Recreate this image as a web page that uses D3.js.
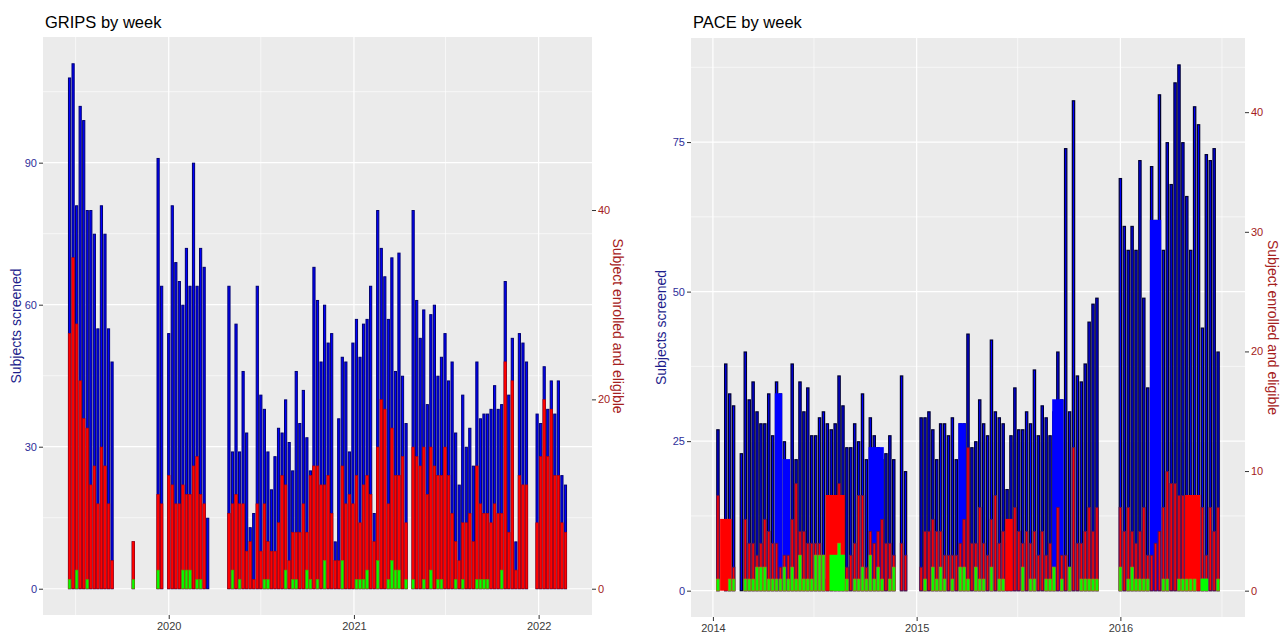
<!DOCTYPE html>
<html>
<head>
<meta charset="utf-8">
<script src="https://cdn.jsdelivr.net/npm/d3@7"></script>
<style>
  body { margin: 0; background: #fff; }
  svg { display: block; font-family: "Liberation Sans", Arial, sans-serif; }
</style>
</head>
<body>
<svg id="chart" width="1282" height="636"></svg>
<script>
// weekly counts, null = no record that week
// enrolled / eligible are on the right hand axis (half the left one)

var gripsStart = "2019-06-19";
var gripsScreened = [
  108,111,81,102,99,80,80,75,55,81,75,55,48,
  null,null,null,null,null,
  10,
  null,null,null,null,null,null,
  91,64,null,54,81,69,65,60,72,64,90,64,72,68,15,
  null,null,null,null,null,
  64,29,56,29,46,33,13,16,64,41,38,29,21,28,34,33,40,31,25,46,35,42,32,25,68,
  61,48,60,52,
  54,10,36,49,48,29,52,57,49,56,57,64,16,80,72,66,57,70,46,71,45,35,null,80,61,53,59,39,58,60,45,49,54,44,48,33,22,41,30,
  34,26,48,36,37,37,38,43,38,39,65,41,53,10,54,52,48,null,null,37,35,47,38,44,37,44,24,22
];
var gripsEnrolled = [
  27,35,28,22,18,17,11,13,9,15,13,9,3,
  null,null,null,null,null,
  5,
  null,null,null,null,null,null,
  10,9,null,12,11,9,9,11,10,10,13,14,10,9,0,
  null,null,null,null,null,
  8,9,10,9,9,4,5,1,9,4,9,5,4,4,7,12,11,3,6,6,6,9,6,12,13,
  13,11,11,12,
  8,3,3,13,9,10,9,12,7,11,12,10,5,15,20,19,9,17,12,12,14,7,null,15,14,13,15,10,15,13,12,12,15,12,8,5,3,7,7,
  8,5,13,9,8,8,7,9,8,8,24,6,22,2,12,11,11,null,null,7,14,20,14,19,12,12,7,6
];
var gripsEligible = [
  1,0,2,0,0,1,0,0,0,0,0,0,0,
  null,null,null,null,null,
  1,
  null,null,null,null,null,null,
  2,0,null,0,0,0,0,2,2,2,0,1,1,0,0,
  null,null,null,null,null,
  0,2,0,1,0,0,0,0,0,0,1,1,0,0,0,0,2,0,1,1,0,0,2,1,0,
  1,0,3,0,
  0,0,0,3,0,0,0,1,1,1,2,0,0,3,0,0,1,3,2,2,0,1,null,1,0,0,1,0,2,0,1,1,0,0,0,1,0,1,0,
  0,0,1,1,1,1,0,0,0,2,0,0,0,0,0,0,0,null,null,0,0,0,0,0,0,0,0,0
];

var paceStart = "2014-01-10";
var paceScreened = [
  27,null,38,33,31,null,23,40,32,35,
  30,28,28,33,26,35,33,25,20,38,
  22,35,30,34,26,26,29,30,28,27,
  28,36,31,24,24,28,25,33,22,29,
  26,24,22,23,26,22,null,36,20,null,
  null,null,29,29,30,27,22,28,28,26,
  29,22,28,28,43,24,25,32,28,26,
  42,30,29,28,17,26,34,27,27,30,
  28,37,26,31,29,26,30,40,32,74,
  30,82,36,35,38,45,48,49,null,null,
  null,null,null,69,61,57,61,57,72,49,
  34,71,62,83,57,75,68,85,88,75,
  66,57,81,78,44,73,72,74,40
];
var paceEnrolled = [
  8,null,4,6,2,null,0,6,4,4,
  3,4,6,5,4,4,2,3,3,6,
  9,5,5,4,4,4,4,3,1,3,
  8,9,8,2,3,4,8,8,2,5,
  4,5,6,4,4,3,null,4,3,null,
  null,null,2,5,5,6,5,5,3,3,
  3,3,4,6,12,4,4,7,4,3,
  6,8,4,5,4,6,7,5,4,5,
  4,5,3,5,3,4,2,7,3,3,
  2,12,4,4,5,7,5,7,null,null,
  null,null,null,7,5,7,5,4,5,7,
  3,3,4,5,7,10,9,9,8,8,
  5,8,8,7,7,3,7,5,7
];
var paceEligible = [
  1,null,0,1,1,null,0,1,1,1,
  2,2,2,1,1,1,1,2,1,2,
  1,3,1,1,1,3,3,3,0,0,
  1,4,3,1,0,1,1,2,1,3,
  1,2,1,0,1,2,null,0,0,null,
  null,null,0,1,0,2,1,2,1,0,
  1,0,2,2,1,0,2,1,1,0,
  2,0,1,1,0,0,0,0,2,0,
  1,1,0,0,1,1,2,0,1,0,
  2,0,0,1,1,1,1,1,null,null,
  null,null,null,2,0,1,2,1,1,1,
  1,0,0,0,1,1,0,0,1,1,
  1,1,1,0,1,1,0,0,1
];
// multi-week records in PACE: [first week, last week, value]
var paceScreenedWide = [[15,16,33],[17,18,22],[39,42,24],[62,63,28],[86,88,32],[111,113,62]];
var paceEnrolledWide = [[1,3,6],[28,32,8],[74,75,6],[120,123,8]];
var paceEligibleWide = [[29,32,3],[124,125,1]];

var gripsTicksLeft = [0, 30, 60, 90];
var gripsTicksRight = [0, 20, 40];
var gripsYears = ["2020", "2021", "2022"];
var paceTicksLeft = [0, 25, 50, 75];
var paceTicksRight = [0, 10, 20, 30, 40];
var paceYears = ["2014", "2015", "2016"];

var svg = d3.select("#chart");
var parseDay = d3.timeParse("%Y-%m-%d");
var secFactor = 2; // right axis = left axis / 2

function drawPanel(p) {
  var start = parseDay(p.start);
  var weekDate = function(i) { return d3.timeDay.offset(start, 7 * i); };
  var halfW = 3.15 * 864e5; // bar is 0.9 of a week
  var n = p.screened.length;
  var lo = +weekDate(0) - halfW, hi = +weekDate(n - 1) + halfW;
  var pad = (hi - lo) * 0.05;
  var x = d3.scaleTime()
    .domain([new Date(lo - pad), new Date(hi + pad)])
    .range([p.left, p.right]);

  var top = d3.max([d3.max(p.screened), secFactor * d3.max(p.enrolled), secFactor * d3.max(p.eligible)]);
  var y = d3.scaleLinear()
    .domain([-top * 0.05, top * 1.05])
    .range([p.bottom, p.top]);

  var g = svg.append("g");

  g.append("rect")
    .attr("x", p.left).attr("y", p.top)
    .attr("width", p.right - p.left).attr("height", p.bottom - p.top)
    .attr("fill", "#ebebeb");

  // grid
  var step = p.ticksLeft[1] - p.ticksLeft[0];
  var minorY = [p.ticksLeft[0] - step / 2].concat(p.ticksLeft.map(function(v) { return v + step / 2; }))
    .filter(function(v) { return v > y.domain()[0] && v < y.domain()[1]; });
  var years = p.years.map(function(s) { return parseDay(s + "-01-01"); });
  var minorX = [d3.timeMonth.offset(years[0], -6)].concat(years.map(function(d) { return d3.timeMonth.offset(d, 6); }))
    .filter(function(d) { return x(d) > p.left && x(d) < p.right; });

  var grid = g.append("g").attr("stroke", "#fff");
  grid.selectAll(".ymin").data(minorY).enter().append("line")
    .attr("x1", p.left).attr("x2", p.right)
    .attr("y1", function(d) { return y(d); }).attr("y2", function(d) { return y(d); })
    .attr("stroke-width", 0.6);
  grid.selectAll(".xmin").data(minorX).enter().append("line")
    .attr("y1", p.top).attr("y2", p.bottom)
    .attr("x1", function(d) { return x(d); }).attr("x2", function(d) { return x(d); })
    .attr("stroke-width", 0.6);
  grid.selectAll(".ymaj").data(p.ticksLeft).enter().append("line")
    .attr("x1", p.left).attr("x2", p.right)
    .attr("y1", function(d) { return y(d); }).attr("y2", function(d) { return y(d); })
    .attr("stroke-width", 1.2);
  grid.selectAll(".xmaj").data(years).enter().append("line")
    .attr("y1", p.top).attr("y2", p.bottom)
    .attr("x1", function(d) { return x(d); }).attr("x2", function(d) { return x(d); })
    .attr("stroke-width", 1.2);

  var bars = g.append("g");

  function series(values, factor, fill, stroke, sw) {
    var rows = values.map(function(v, i) { return { i: i, v: v }; })
      .filter(function(d) { return d.v !== null && d.v > 0; });
    bars.append("g").selectAll("rect").data(rows).enter().append("rect")
      .attr("x", function(d) { return x(+weekDate(d.i) - halfW) + sw / 2; })
      .attr("width", function(d) { return Math.max(0.3, x(+weekDate(d.i) + halfW) - x(+weekDate(d.i) - halfW) - sw); })
      .attr("y", function(d) { return y(d.v * factor) + sw / 2; })
      .attr("height", function(d) { return Math.max(0.3, y(0) - y(d.v * factor) - sw / 2); })
      .attr("fill", fill)
      .attr("stroke", stroke)
      .attr("stroke-width", sw);
  }

  function wide(list, factor, fill) {
    bars.append("g").selectAll("rect").data(list).enter().append("rect")
      .attr("x", function(d) { return x(+weekDate(d[0]) - halfW); })
      .attr("width", function(d) { return x(+weekDate(d[1]) + halfW) - x(+weekDate(d[0]) - halfW); })
      .attr("y", function(d) { return y(d[2] * factor); })
      .attr("height", function(d) { return y(0) - y(d[2] * factor); })
      .attr("fill", fill);
  }

  series(p.screened, 1, "#0000ff", p.blueLine, p.sw);
  wide(p.screenedWide, 1, "#0000ff");
  series(p.enrolled, secFactor, "#ff0000", p.redLine, p.swRed);
  wide(p.enrolledWide, secFactor, "#ff0000");
  series(p.eligible, secFactor, "#00ff00", p.greenLine, p.swGreen);
  wide(p.eligibleWide, secFactor, "#00ff00");

  // axes
  var yl = g.append("g")
    .attr("transform", "translate(" + p.left + ",0)")
    .call(d3.axisLeft(y).tickValues(p.ticksLeft).tickSize(4).tickPadding(2));
  yl.select(".domain").remove();
  yl.selectAll("line").attr("stroke", "#333");
  yl.selectAll("text").attr("fill", "#2e2e9a").style("font-size", "11px").style("font-family", null);

  var yr = g.append("g")
    .attr("transform", "translate(" + p.right + ",0)")
    .call(d3.axisRight(d3.scaleLinear().domain(y.domain().map(function(v) { return v / secFactor; })).range(y.range()))
      .tickValues(p.ticksRight).tickSize(4).tickPadding(2));
  yr.select(".domain").remove();
  yr.selectAll("line").attr("stroke", "#333");
  yr.selectAll("text").attr("fill", "#a32020").style("font-size", "11px").style("font-family", null);

  var xa = g.append("g")
    .attr("transform", "translate(0," + p.bottom + ")")
    .call(d3.axisBottom(x).tickValues(years).tickFormat(d3.timeFormat("%Y")).tickSize(4).tickPadding(3));
  xa.select(".domain").remove();
  xa.selectAll("line").attr("stroke", "#333");
  xa.selectAll("text").attr("fill", "#3a3a3a").style("font-size", "11px").style("font-family", null);

  // titles
  g.append("text")
    .attr("x", p.left + 2).attr("y", 28)
    .style("font-size", "16.5px").attr("fill", "#000")
    .text(p.title);

  var midY = (p.top + p.bottom) / 2;
  g.append("text")
    .attr("transform", "translate(" + p.leftTitleX + "," + midY + ") rotate(-90)")
    .attr("text-anchor", "middle").attr("dy", "0.35em")
    .style("font-size", "14px").attr("fill", "#1e1e8c")
    .text("Subjects screened");
  g.append("text")
    .attr("transform", "translate(" + p.rightTitleX + "," + midY + ") rotate(90)")
    .attr("text-anchor", "middle").attr("dy", "0.35em")
    .style("font-size", "14px").attr("fill", "#a52020")
    .text("Subject enrolled and eligible");
}

drawPanel({
  title: "GRIPS by week",
  start: gripsStart,
  screened: gripsScreened, enrolled: gripsEnrolled, eligible: gripsEligible,
  screenedWide: [], enrolledWide: [], eligibleWide: [],
  ticksLeft: gripsTicksLeft, ticksRight: gripsTicksRight, years: gripsYears,
  left: 43, right: 592, top: 37, bottom: 615,
  leftTitleX: 16, rightTitleX: 618,
  blueLine: "#000070", sw: 1,
  redLine: "#b00000", swRed: 0.6,
  greenLine: "#5a9a00", swGreen: 0.6
});

drawPanel({
  title: "PACE by week",
  start: paceStart,
  screened: paceScreened, enrolled: paceEnrolled, eligible: paceEligible,
  screenedWide: paceScreenedWide, enrolledWide: paceEnrolledWide, eligibleWide: paceEligibleWide,
  ticksLeft: paceTicksLeft, ticksRight: paceTicksRight, years: paceYears,
  left: 691, right: 1245, top: 38, bottom: 617,
  leftTitleX: 661, rightTitleX: 1273,
  blueLine: "#000030", sw: 1.2,
  redLine: "#601050", swRed: 1,
  greenLine: "#8a9a10", swGreen: 0.8
});
</script>
</body>
</html>
